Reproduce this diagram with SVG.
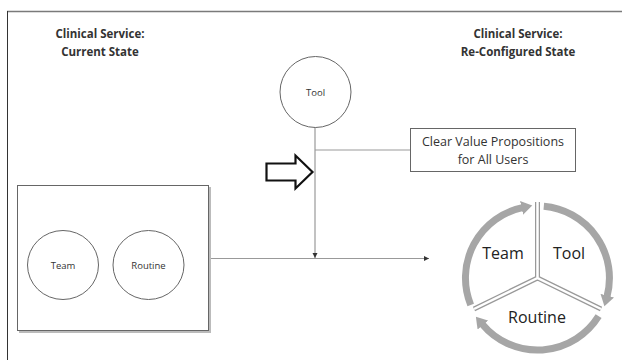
<svg xmlns="http://www.w3.org/2000/svg" width="622" height="360" viewBox="0 0 622 360">
<style>
.title{font-family:"Open Sans","Liberation Sans",sans-serif;font-weight:bold;font-size:11.5px;fill:#333;text-anchor:middle}
.small{font-family:"Open Sans","Liberation Sans",sans-serif;font-size:9.5px;fill:#333;text-anchor:middle}
.box{font-family:"Open Sans","Liberation Sans",sans-serif;font-size:12.5px;fill:#333;text-anchor:middle}
.cyc{font-family:"Open Sans","Liberation Sans",sans-serif;font-size:16px;fill:#222;text-anchor:middle}
.node{fill:#fff;stroke:#666;stroke-width:1}
.conn{fill:none;stroke:#999;stroke-width:1.2}
.ring{fill:none;stroke:#a6a6a6;stroke-width:7}
</style>
<defs>
<marker id="sm" markerUnits="userSpaceOnUse" markerWidth="6" markerHeight="6" refX="5" refY="3" orient="auto">
<path d="M0,0.5 L5,3 L0,5.5 z" fill="#333"/>
</marker>
<marker id="big" markerUnits="userSpaceOnUse" markerWidth="12" markerHeight="14" refX="1" refY="7" orient="auto">
<path d="M0,0 L11,7 L0,14 z" fill="#a6a6a6"/>
</marker>
</defs>
<rect width="622" height="360" fill="#fff"/>
<g id="frame">
<line x1="7" y1="11.5" x2="622" y2="11.5" stroke="#7a7a7a" stroke-width="1.6"/>
<line x1="7.5" y1="11" x2="7.5" y2="360" stroke="#333" stroke-width="1"/>
</g>
<g id="title-left">
<text class="title" x="100" y="38">Clinical Service:</text>
<text class="title" x="100" y="56">Current State</text>
</g>
<g id="title-right">
<text class="title" x="518" y="38">Clinical Service:</text>
<text class="title" x="518" y="56">Re-Configured State</text>
</g>
<g id="connectors">
<line class="conn" x1="315" y1="127" x2="315" y2="258" marker-end="url(#sm)"/>
<line class="conn" x1="315" y1="150" x2="410" y2="150"/>
<line class="conn" x1="209" y1="258.5" x2="429" y2="258.5" stroke="#666" marker-end="url(#sm)"/>
</g>
<g id="current-state">
<rect x="19" y="187" width="192" height="146" fill="#bbb"/>
<rect x="17.5" y="185.5" width="191" height="145" class="node" stroke="#888"/>
<g id="team-left">
<ellipse cx="63" cy="265" rx="35.5" ry="34.5" class="node"/>
<text class="small" x="63" y="268.5">Team</text>
</g>
<g id="routine-left">
<ellipse cx="148.5" cy="265" rx="35.5" ry="34.5" class="node"/>
<text class="small" x="148.5" y="268.5">Routine</text>
</g>
</g>
<g id="tool-top">
<circle cx="315.5" cy="92" r="35.5" class="node"/>
<text class="small" x="315.5" y="95.5">Tool</text>
</g>
<g id="value-box">
<rect x="410.5" y="128.5" width="165" height="43" class="node"/>
<text class="box" x="493" y="146">Clear Value Propositions</text>
<text class="box" x="493" y="164">for All Users</text>
</g>
<g id="transition-arrow">
<path d="M266.5,163.5 L295.5,163.5 L295.5,155.5 L312.5,172 L295.5,188.5 L295.5,180.5 L266.5,180.5 z" fill="#fff" stroke="#111" stroke-width="2.2" stroke-linejoin="miter"/>
</g>
<g id="cycle">
<g id="dividers">
<path d="M537.5,202 L537.5,278 L601,309 M537.5,278 L474,309" fill="none" stroke="#999" stroke-width="5"/>
<path d="M537.5,202 L537.5,278 L601,309 M537.5,278 L474,309" fill="none" stroke="#fff" stroke-width="2.5"/>
</g>
<path class="ring" d="M470.7,305 A72,72 0 0 1 522.5,207.6" marker-end="url(#big)"/>
<path class="ring" d="M543.8,206.3 A72,72 0 0 1 607,296.6" marker-end="url(#big)"/>
<path class="ring" d="M598.6,316.2 A72,72 0 0 1 482.3,324.3" marker-end="url(#big)"/>
<text class="cyc" x="503" y="259">Team</text>
<text class="cyc" x="569" y="259">Tool</text>
<text class="cyc" x="537" y="323">Routine</text>
</g>
</svg>
